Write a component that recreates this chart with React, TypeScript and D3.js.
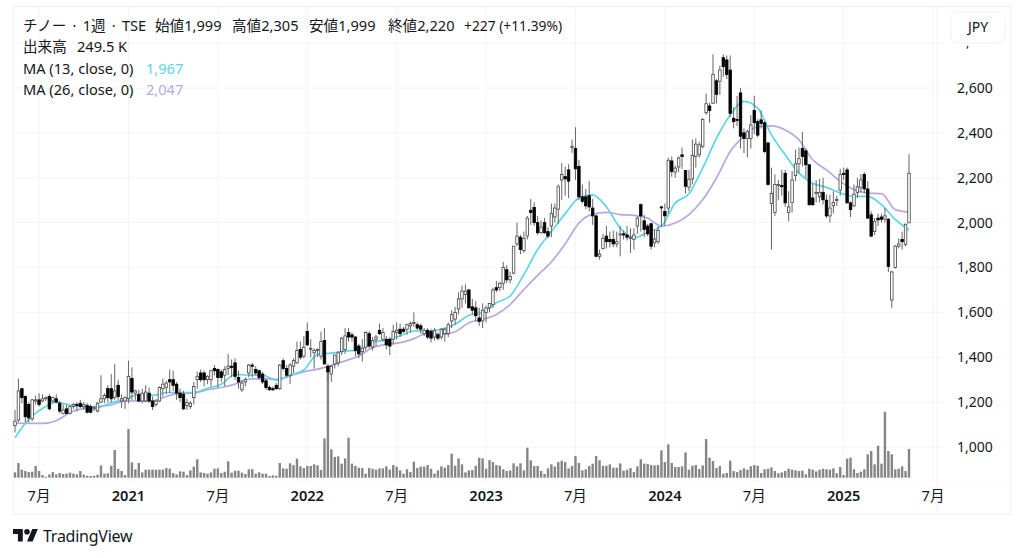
import React from "react";
import * as d3 from "d3";

const opens = [
1095,1120,1260,1225,1190,1125,1205,1210,1205,1215,
1225,1205,1215,1195,1150,1170,1150,1180,1190,1195,
1180,1185,1180,1170,1160,1200,1215,1260,1260,1220,
1275,1205,1205,1215,1305,1240,1235,1205,1205,1240,
1205,1190,1205,1260,1265,1300,1300,1280,1240,1235,
1185,1180,1220,1300,1330,1330,1300,1300,1350,1345,
1335,1320,1350,1360,1375,1310,1255,1290,1330,1365,
1345,1340,1325,1295,1265,1260,1275,1260,1385,1350,
1320,1360,1375,1435,1405,1515,1440,1420,1430,1405,
1475,1360,1325,1370,1375,1425,1435,1510,1500,1490,
1450,1425,1445,1505,1445,1480,1520,1480,1480,1480,
1480,1510,1525,1525,1525,1540,1550,1545,1540,1505,
1520,1515,1490,1500,1490,1505,1505,1562,1570,1615,
1660,1680,1700,1625,1620,1575,1562,1600,1620,1635,
1710,1710,1730,1790,1745,1775,1905,1935,1875,1940,
2055,2068,2000,1955,2000,1960,1985,2025,2060,2190,
2205,2235,2335,2330,2250,2115,2115,2120,2065,2030,
1850,1885,1940,1925,1925,1905,1945,1950,1945,1930,
1925,1985,2080,2008,1985,1995,1910,1915,2070,2050,
2065,2275,2225,2248,2302,2232,2158,2195,2295,2302,
2340,2490,2520,2532,2632,2630,2735,2725,2680,2465,
2460,2578,2400,2375,2375,2500,2450,2458,2445,2355,
2085,2045,2165,2165,2220,2045,2090,2210,2262,2330,
2320,2258,2110,2135,2115,2135,2100,2030,2075,2100,
2145,2220,2235,2088,2075,2135,2155,2215,2150,2035,
1960,2020,2025,2016,2015,1655,1800,1895,1925,1903,
1999];

const highs = [
1165,1305,1262,1230,1200,1215,1230,1240,1235,1225,
1235,1225,1235,1205,1190,1190,1185,1195,1200,1210,
1200,1195,1190,1185,1200,1320,1240,1275,1325,1370,
1300,1235,1225,1385,1355,1255,1255,1260,1275,1265,
1225,1210,1270,1305,1295,1345,1340,1290,1260,1250,
1215,1205,1290,1335,1345,1340,1320,1345,1365,1350,
1345,1360,1415,1390,1395,1340,1300,1310,1370,1375,
1360,1345,1335,1305,1275,1270,1285,1370,1395,1365,
1375,1395,1470,1470,1495,1555,1480,1440,1440,1515,
1530,1370,1365,1410,1425,1490,1530,1530,1510,1495,
1460,1480,1515,1515,1490,1500,1550,1530,1495,1490,
1545,1555,1550,1535,1550,1560,1600,1555,1550,1530,
1530,1525,1530,1510,1530,1530,1555,1610,1625,1690,
1720,1725,1705,1660,1650,1620,1640,1630,1640,1710,
1740,1735,1825,1810,1780,1895,2000,1945,1960,2030,
2105,2090,2030,2010,2020,1980,2085,2085,2170,2265,
2250,2260,2370,2425,2280,2170,2150,2185,2105,2035,
1880,1950,1985,1960,1965,1960,1985,1965,1985,1975,
1975,2030,2085,2035,1995,2000,1970,1985,2075,2085,
2290,2295,2255,2295,2335,2235,2235,2370,2375,2360,
2465,2575,2535,2750,2640,2700,2750,2745,2745,2515,
2565,2600,2420,2415,2480,2565,2460,2500,2450,2360,
2245,2215,2190,2235,2235,2140,2230,2325,2335,2405,
2330,2260,2175,2190,2195,2200,2125,2125,2140,2120,
2240,2245,2245,2095,2170,2200,2215,2225,2185,2050,
2020,2040,2040,2065,2020,1785,1900,1930,1960,1995,
2305];

const lows = [
1065,1110,1195,1110,1110,1115,1190,1180,1200,1205,
1165,1195,1195,1150,1145,1145,1145,1170,1160,1175,
1165,1150,1150,1160,1155,1195,1195,1200,1200,1210,
1210,1175,1170,1195,1210,1210,1200,1195,1200,1195,
1165,1180,1200,1225,1235,1240,1250,1210,1200,1165,
1165,1170,1190,1260,1290,1270,1280,1270,1320,1265,
1290,1270,1320,1310,1300,1260,1245,1270,1310,1310,
1320,1300,1280,1255,1250,1250,1255,1255,1340,1310,
1280,1330,1370,1390,1395,1450,1400,1350,1400,1390,
1370,1290,1290,1350,1360,1410,1415,1470,1470,1405,
1395,1380,1430,1440,1430,1450,1500,1470,1435,1410,
1455,1480,1490,1510,1500,1510,1535,1520,1505,1495,
1480,1465,1475,1475,1480,1470,1490,1530,1545,1590,
1620,1640,1620,1590,1560,1540,1530,1555,1600,1620,
1690,1695,1700,1730,1730,1770,1895,1860,1865,1925,
1990,1985,1945,1950,1950,1930,1935,2000,1995,2100,
2120,2110,2310,2190,2100,2085,2060,2050,1990,1845,
1835,1880,1885,1890,1890,1890,1850,1925,1920,1865,
1880,1950,1960,1935,1940,1880,1890,1905,1980,1985,
2040,2205,2200,2225,2240,2130,2140,2170,2245,2290,
2330,2480,2445,2530,2530,2570,2650,2640,2470,2420,
2430,2330,2310,2290,2330,2395,2380,2420,2310,2165,
1880,2030,2100,2120,2070,2005,2045,2185,2220,2250,
2200,2075,2075,2090,2090,2080,2020,2000,2040,2075,
2120,2190,2085,2025,2070,2110,2135,2130,2020,1935,
1945,1985,2000,2000,1780,1620,1795,1885,1880,1895,
1999];

const closes = [
1115,1250,1220,1135,1130,1210,1210,1190,1215,1220,
1170,1220,1200,1160,1165,1150,1180,1190,1185,1180,
1190,1155,1155,1175,1195,1215,1230,1220,1215,1250,
1225,1215,1220,1315,1245,1250,1205,1240,1245,1205,
1180,1205,1265,1280,1285,1290,1275,1240,1220,1170,
1198,1195,1270,1315,1300,1300,1315,1340,1340,1310,
1310,1345,1360,1355,1315,1290,1285,1300,1365,1360,
1330,1310,1290,1265,1255,1255,1260,1365,1350,1320,
1365,1385,1430,1400,1445,1455,1440,1430,1435,1470,
1370,1335,1360,1410,1420,1485,1495,1490,1490,1430,
1415,1440,1510,1450,1475,1490,1505,1510,1455,1450,
1515,1520,1505,1515,1545,1550,1555,1530,1525,1520,
1490,1485,1520,1485,1525,1525,1545,1590,1600,1660,
1695,1695,1620,1610,1585,1560,1610,1620,1640,1700,
1700,1730,1800,1745,1760,1895,1940,1880,1930,2020,
2045,2000,1955,1980,1955,1940,2040,2065,2160,2215,
2195,2185,2340,2240,2115,2095,2075,2070,2030,1850,
1860,1930,1915,1915,1905,1915,1950,1945,1935,1935,
1945,2020,2030,1970,1950,1895,1927,1965,2068,2030,
2278,2228,2243,2288,2295,2162,2193,2300,2350,2347,
2460,2530,2500,2660,2572,2680,2695,2660,2487,2450,
2455,2385,2375,2405,2435,2445,2390,2442,2317,2170,
2130,2170,2170,2160,2088,2070,2190,2262,2285,2295,
2258,2080,2080,2135,2135,2102,2030,2065,2090,2103,
2215,2215,2088,2058,2127,2160,2190,2150,2020,1940,
2005,2012,2015,2030,1805,1780,1895,1905,1915,1993,
2220];

const volumesK = [
46,128,70,58,49,52,102,58,23,9,
29,49,29,41,32,35,44,35,29,58,
26,17,15,17,26,107,35,38,104,241,
75,58,23,423,133,73,128,46,70,70,
70,70,70,70,84,78,41,29,55,52,
23,64,96,160,46,41,35,46,78,81,
41,52,142,44,61,61,44,32,73,75,
35,46,35,35,15,20,17,128,81,78,
125,110,165,99,84,102,102,116,107,67,
342,920,247,180,186,122,168,348,122,102,
87,84,35,84,78,70,81,81,99,70,
110,96,64,35,73,49,139,84,96,96,
110,78,35,64,99,87,110,209,104,168,
116,46,64,67,104,174,168,78,154,136,
110,104,73,58,64,125,99,125,64,261,
151,102,102,58,32,81,116,96,136,148,
136,81,102,189,128,64,73,102,122,189,
151,104,104,116,87,87,125,61,70,84,
49,99,160,122,119,110,107,110,238,136,
290,128,93,93,99,220,70,104,110,75,
107,336,174,145,84,102,35,41,148,58,
49,67,81,70,99,110,104,41,73,78,
90,58,38,46,58,78,70,64,58,61,
29,78,70,55,70,78,73,70,81,38,
93,23,165,174,73,41,52,73,203,232,
116,278,122,574,232,203,73,78,99,58,
249.5];

const ma13Every4 = [
1041,1124,1172,1200,1187,1180,1176,1198,1213,1234,1230,
1243,1243,1243,1262,1280,1324,1320,1320,1298,1320,1343,
1413,1418,1428,1431,1468,1477,1495,1517,1517,1525,1547,
1587,1601,1643,1673,1769,1880,1960,2040,2110,2124,2070,
1976,1932,1957,1984,2087,2129,2243,2376,2480,2540,2510,
2391,2302,2221,2176,2157,2132,2117,2117,2080,2014,1967];
const ma26Every4 = [
1107,1105,1105,1117,1154,1172,1180,1187,1206,1206,1206,
1225,1240,1240,1255,1265,1280,1302,1305,1302,1317,1335,
1347,1364,1384,1406,1443,1458,1465,1483,1507,1502,1514,
1554,1569,1591,1635,1702,1765,1825,1905,1998,2038,2046,
2036,2032,2020,1984,1998,2036,2102,2199,2317,2384,2428,
2431,2413,2369,2280,2235,2184,2147,2132,2129,2058,2047];

const priceTicks = [1000,1200,1400,1600,1800,2000,2200,2400,2600];
const timeTickWeeks = [7,33,59,85,111,137,163,189,215,241,267];
const timeTickLabels = ["7月","2021","7月","2022","7月","2023","7月","2024","7月","2025","7月"];

const gridPrices = [1000,1200,1400,1600,1800,2000,2200,2400,2600,2800];
const headerParts = ["チノー \u2009·\u2009 1週 \u2009·\u2009 TSE","始値1,999","高値2,305","安値1,999","終値2,220","+227 (+11.39%)"];
const headerStarts = [23,155,232,309,388,464];

const INK = "#131722";
const GRID = "#f3f4f6";
const FONT = `"Noto Sans","Noto Sans CJK JP",sans-serif`;
const TEXT_SIZE = 14.6;

export default function App() {
  const x = d3.scaleLinear().domain([0, 260]).range([15, 909]);
  const y = d3.scaleLinear().domain([1000, 2600]).range([447, 88]);
  const base = 477.7;
  const vol = d3.scaleLinear().domain([0, 1000]).range([base, base - 115]);
  const lineOf = (vals: number[]) =>
    d3.line<number>().x((_, i) => x(i * 4)).y(d => y(d)).curve(d3.curveMonotoneX)(vals) || "";
  const bw = 2.5;
  return (
    <svg width={1024} height={558} viewBox="0 0 1024 558"
      style={{ position: "absolute", left: 0, top: 0, background: "#fff", fontFamily: FONT }}>
      <rect x={13} y={6.5} width={998} height={507.5} fill="none" stroke="#eff1f4" />
      <line x1={937} x2={937} y1={6.5} y2={514} stroke="#eff1f4" />
      <line x1={13} x2={1011} y1={481} y2={481} stroke="#fbfbfc" />
      {gridPrices.map(p => (
        <line key={p} x1={13} x2={945} y1={y(p)} y2={y(p)} stroke={GRID} />
      ))}
      {timeTickWeeks.map(w => (
        <line key={w} x1={x(w)} x2={x(w)} y1={6.5} y2={481} stroke={GRID} />
      ))}

      {volumesK.map((v, i) => (
        <rect key={i} x={x(i) - 1.2} width={2.4} y={vol(v)} height={base - vol(v)} fill="#858585" />
      ))}

      <path d={lineOf(ma26Every4)} fill="none" stroke="#b9a7e3" strokeWidth={1.7} />
      <path d={lineOf(ma13Every4)} fill="none" stroke="#5dd6e8" strokeWidth={1.7} />

      {closes.map((c, i) => {
        const o = opens[i];
        const up = c >= o;
        const top = y(Math.max(o, c));
        const h = Math.max(1, Math.abs(y(o) - y(c)));
        return (
          <g key={i}>
            <line x1={x(i)} x2={x(i)} y1={y(highs[i])} y2={y(lows[i])} stroke="#666" strokeWidth={1} />
            <rect x={x(i) - bw / 2} y={top} width={bw} height={h}
              fill={up ? "#fff" : "#000"} stroke={up ? "#444" : "#000"} strokeWidth={0.8} />
          </g>
        );
      })}

      <g fontSize={TEXT_SIZE} fill={INK}>
        {headerParts.map((t, i) => (
          <text key={i} x={headerStarts[i]} y={31} fontSize={i === 5 ? 13.8 : TEXT_SIZE}>{t}</text>
        ))}
        <text x={23} y={52}>出来高</text>
        <text x={77} y={52}>249.5 K</text>
        <text x={23} y={74}>MA (13, close, 0)</text>
        <text x={146} y={74} fill="#5dd6e8">1,967</text>
        <text x={23} y={95}>MA (26, close, 0)</text>
        <text x={146} y={95} fill="#b9a7e3">2,047</text>
      </g>

      <g fontSize={14} fill={INK}>
        {priceTicks.map(p => (
          <text key={p} x={975} y={y(p)} dy="0.35em" textAnchor="middle">{d3.format(",")(p)}</text>
        ))}
        <text x={966} y={47} fontSize={12}>,</text>
      </g>

      <rect x={951} y={12} width={54} height={31} rx={6} fill="#fff" stroke="#eff1f4" />
      <text x={978} y={27.5} dy="0.35em" fontSize={14} textAnchor="middle" fill={INK}>JPY</text>

      <g fontSize={14.6} fill={INK} textAnchor="middle">
        {timeTickWeeks.map((w, i) => (
          <text key={w} x={x(w)} y={496} dy="0.35em"
            fontWeight={timeTickLabels[i].length > 2 ? 600 : 400}>{timeTickLabels[i]}</text>
        ))}
      </g>

      <g transform="translate(13,526.2) scale(0.7)" fill={INK}>
        <path d="M14 22H7V11H0V4h14v18zM28 22h-8l7.5-18h8L28 22z" />
        <circle cx={20} cy={8} r={4} />
      </g>
      <text x={43} y={542} fontSize={16} letterSpacing={-0.25} fill={INK}>TradingView</text>
    </svg>
  );
}
